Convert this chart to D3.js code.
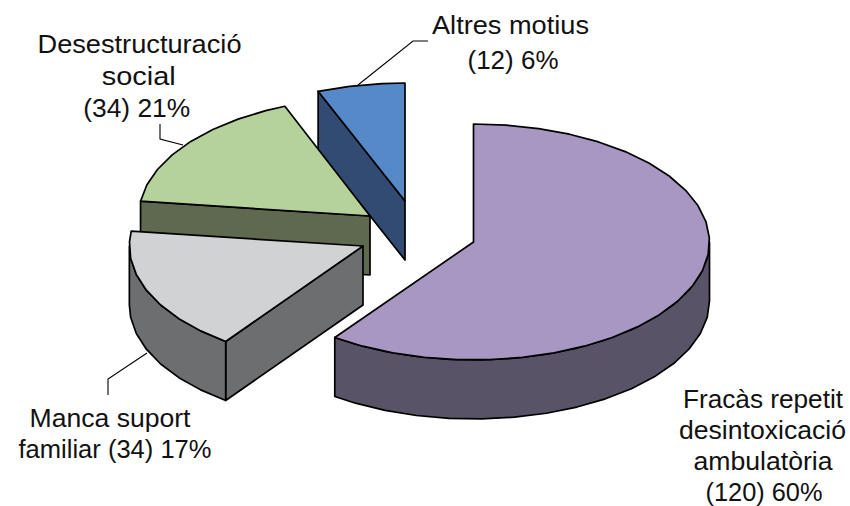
<!DOCTYPE html>
<html>
<head>
<meta charset="utf-8">
<script src="https://cdn.jsdelivr.net/npm/d3@7/dist/d3.min.js"></script>
<style>html,body{margin:0;padding:0;background:#fff}svg{display:block}text{font-family:"Liberation Sans",Arial,sans-serif;fill:#111}</style>
</head>
<body>
<svg id="c" width="850" height="506"></svg>
<script>
const categories = ["Fracàs repetit desintoxicació ambulatòria", "Manca suport familiar", "Desestructuració social", "Altres motius"];
const values = [120, 34, 34, 12];
const printedPercent = [60, 17, 21, 6];

const topColors = ["#A897C2", "#D0D2D3", "#B5D29A", "#5689C8"];
const wallColors = ["#595368", "#6D6E70", "#5F6950", "#314B72"];
const centers = [[473.5, 242], [363, 246], [370, 216], [405, 201]];
const radiusScale = [1, 0.99, 0.98, 1];
const radiusX = 236, radiusY = 118, depth = 59, arcStep = Math.PI / 22.5;

// [text, centre x, baseline y, fitted width]
const labelLines = [
  ["Fracàs repetit", 763, 408, 160],
  ["desintoxicació", 762.5, 439, 167],
  ["ambulatòria", 763, 470, 139],
  ["(120) 60%", 764, 501, 117],
  ["Altres motius", 510.5, 33.5, 157],
  ["(12) 6%", 513, 69, 91],
  ["Desestructuració", 139.5, 52.5, 204],
  ["social", 138.7, 85, 74],
  ["(34) 21%", 136.7, 117, 107],
  ["Manca suport", 110, 426.5, 161],
  ["familiar (34) 17%", 115, 458, 193]
];
const leaders = [
  [[358, 85], [413, 41], [428, 41]],
  [[183, 145], [160, 139], [160, 124]],
  [[147, 353], [108, 379], [108, 395]]
];

const svg = d3.select("#c");
const sx = d3.scaleLinear().domain([-1, 1]).range([-radiusX, radiusX]);
const sy = d3.scaleLinear().domain([-1, 1]).range([-radiusY, radiusY]);
const arcs = d3.pie().sort(null)(values);
const line = d3.line().curve(d3.curveLinear);
const poly = pts => line(pts) + "Z";

function rimPoint(a, c, dz, k) {
  return [c[0] + k * sx(Math.sin(a)), c[1] + sy(-Math.cos(a)) + dz];
}
function rim(a0, a1, c, dz, k) {
  const pts = d3.range(a0, a1 - arcStep / 4, arcStep).concat([a1]);
  return pts.map(a => rimPoint(a, c, dz, k));
}
function face(a, c, k) {
  const p = rimPoint(a, c, 0, k);
  return [c, p, [p[0], p[1] + depth], [c[0], c[1] + depth]];
}

const order = d3.range(arcs.length).reverse();
const g = svg.append("g").attr("stroke", "#000").attr("stroke-width", 1.7).attr("stroke-linejoin", "round");
order.forEach(i => {
  const d = arcs[i], c = centers[i], k = radiusScale[i], s = g.append("g");
  const eps = 1e-6;
  if (Math.sin(d.startAngle) < -eps) s.append("path").attr("d", poly(face(d.startAngle, c, k))).attr("fill", wallColors[i]);
  if (Math.sin(d.endAngle) > eps) s.append("path").attr("d", poly(face(d.endAngle, c, k))).attr("fill", wallColors[i]);
  const w0 = Math.max(d.startAngle, Math.PI / 2), w1 = Math.min(d.endAngle, 3 * Math.PI / 2);
  if (w1 > w0) {
    s.append("path").attr("d", poly(rim(w0, w1, c, 0, k).concat(rim(w0, w1, c, depth, k).reverse()))).attr("fill", wallColors[i]);
  }
  s.append("path").attr("d", poly([c].concat(rim(d.startAngle, d.endAngle, c, 0, k)))).attr("fill", topColors[i]);
});

svg.append("g").selectAll("path").data(leaders).join("path")
  .attr("d", d => line(d)).attr("fill", "none").attr("stroke", "#000").attr("stroke-width", 1.1);

svg.append("g").selectAll("text").data(labelLines).join("text")
  .attr("x", d => d[1]).attr("y", d => d[2])
  .attr("text-anchor", "middle").attr("font-size", 26)
  .attr("textLength", d => d[3]).attr("lengthAdjust", "spacingAndGlyphs")
  .text(d => d[0]);
</script>
</body>
</html>
